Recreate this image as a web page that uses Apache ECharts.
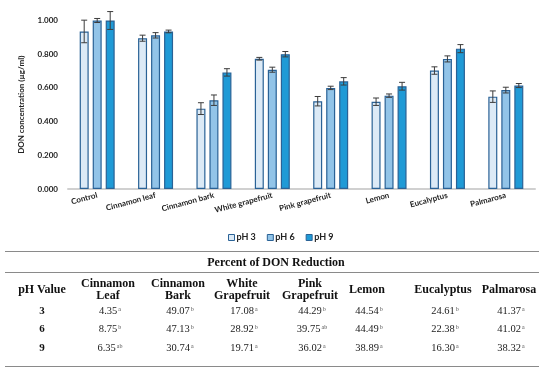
<!DOCTYPE html>
<html><head><meta charset="utf-8">
<script src="https://cdn.jsdelivr.net/npm/echarts@6/dist/echarts.min.js"></script>
<style>
html,body{margin:0;padding:0;background:#fff;}
#wrap{position:relative;width:550px;height:374px;overflow:hidden;}
#chart{position:absolute;left:0;top:0;width:550px;height:374px;}
#table{position:absolute;left:0;top:0;width:550px;height:374px;font-family:"Liberation Serif","DejaVu Serif",serif;color:#111;pointer-events:none;}
.cell{position:absolute;text-align:center;white-space:nowrap;transform:translate(-50%,-50%);}
.hd{font-weight:bold;font-size:12px;line-height:12.5px;}
.dt{font-size:10.5px;color:#222;}
.ph{font-weight:bold;font-size:11px;}
sup{font-size:6px;color:#555;vertical-align:3px;margin-left:1px;}
.hline{position:absolute;left:5px;width:534px;background:#8a8a8a;}
</style></head>
<body><div id="wrap"><div id="chart"></div><div id="table"></div></div>
<script>
const categories = ['Control','Cinnamon leaf','Cinnamon bark','White grapefruit','Pink grapefruit','Lemon','Eucalyptus','Palmarosa'];
const ph3 = [0.935,0.895,0.477,0.773,0.521,0.518,0.703,0.548];
const ph6 = [1.000,0.912,0.527,0.708,0.600,0.554,0.772,0.587];
const ph9 = [1.000,0.935,0.692,0.800,0.639,0.610,0.833,0.614];
const ph3Err = [0.067,0.018,0.035,0.008,0.028,0.022,0.022,0.034];
const ph6Err = [0.012,0.016,0.031,0.015,0.010,0.010,0.018,0.017];
const ph9Err = [0.053,0.008,0.022,0.016,0.022,0.023,0.024,0.012];
const yTicks = [0,0.2,0.4,0.6,0.8,1.0];

const tableTitle = 'Percent of DON Reduction';
const tableHeaders = ['pH Value','Cinnamon\nLeaf','Cinnamon\nBark','White\nGrapefruit','Pink\nGrapefruit','Lemon','Eucalyptus','Palmarosa'];
const phValues = ['3','6','9'];
const red3 = ['4.35','49.07','17.08','44.29','44.54','24.61','41.37'];
const sig3 = ['a','b','a','b','b','b','a'];
const red6 = ['8.75','47.13','28.92','39.75','44.49','22.38','41.02'];
const sig6 = ['b','b','b','ab','b','b','a'];
const red9 = ['6.35','30.74','19.71','36.02','38.89','16.30','38.32'];
const sig9 = ['ab','a','a','a','a','a','a'];

const chart = echarts.init(document.getElementById('chart'), null, {renderer:'canvas'});
const font = 'Lato, "Open Sans", sans-serif';
const fills = ['#dceaf6','#92c4e8','#1f9ad6'];
const border = '#2a6296';
const names = ['pH 3','pH 6','pH 9'];
const vals = [ph3,ph6,ph9];
const errs = [ph3Err,ph6Err,ph9Err];
const barW = 9, gap = 4;

const series = [];
vals.forEach((v,i)=>{
  series.push({
    name: names[i], type:'bar', data: v, barWidth: barW, barGap: (gap/barW*100)+'%',
    itemStyle:{color:fills[i], borderColor:border, borderWidth:1.2},
    emphasis:{disabled:true}
  });
});
vals.forEach((v,i)=>{
  series.push({
    type:'custom', name: names[i]+' err', silent:true, z:10, clip:false,
    data: v.map((y,k)=>[k,y,errs[i][k]]),
    renderItem:(params, api)=>{
      const k = api.value(0), y = api.value(1), e = api.value(2);
      const off = (i-1)*(barW+gap);
      const top = api.coord([k, y+e]); const bot = api.coord([k, y-e]);
      const x = top[0] + off;
      const st = {stroke:'#3c3c3c', lineWidth:1};
      return {type:'group', children:[
        {type:'line', shape:{x1:x,y1:top[1],x2:x,y2:bot[1]}, style:st},
        {type:'line', shape:{x1:x-3,y1:top[1],x2:x+3,y2:top[1]}, style:st},
        {type:'line', shape:{x1:x-3,y1:bot[1],x2:x+3,y2:bot[1]}, style:st}
      ]};
    }
  });
});

chart.setOption({
  animation:false,
  textStyle:{fontFamily:font},
  grid:{left:68, right:15, top:20.5, bottom:185},
  legend:{
    data:names, left:228, top:233, itemWidth:6, itemHeight:6, itemGap:11,
    icon:'rect', padding:0,
    textStyle:{fontFamily:font, fontWeight:'bold', fontSize:9, color:'#222', padding:[0,0,0,-3]},
    itemStyle:{borderColor:border, borderWidth:1}
  },
  xAxis:{
    type:'category', data:categories,
    axisLine:{lineStyle:{color:'#d0d0d0', width:2}},
    axisTick:{show:false},
    axisLabel:{interval:0, rotate:15, fontFamily:font, fontWeight:'bold', fontSize:8, color:'#222', margin:6}
  },
  yAxis:{
    type:'value', min:0, max:1, interval:0.2,
    name:'DON concentration (µg/ml)', nameLocation:'middle', nameGap:43,
    nameTextStyle:{fontFamily:font, fontWeight:'bold', fontSize:8, color:'#222'},
    axisLine:{show:false}, axisTick:{show:false}, splitLine:{show:false},
    axisLabel:{fontFamily:font, fontWeight:'bold', fontSize:8, color:'#222', margin:10,
      formatter:v=>v.toFixed(3)}
  },
  series: series
});

// Table
const t = document.getElementById('table');
function add(html, cls, x, y){
  const d = document.createElement('div'); d.className='cell '+cls;
  d.style.left=x+'px'; d.style.top=y+'px'; d.innerHTML=html; t.appendChild(d);
}
function hline(y,h){const d=document.createElement('div');d.className='hline';d.style.top=y+'px';d.style.height=h+'px';t.appendChild(d);}
hline(250.5,1.5); hline(272,1); hline(365.5,1.5);
add(tableTitle,'hd',276,261.5);
const colX = [42,108,178,242,310,367,443,509];
tableHeaders.forEach((h,i)=>add(h.replace('\n','<br>'),'hd',colX[i],288.5));
const rowsV = [red3,red6,red9], rowsS=[sig3,sig6,sig9], rowY=[310,328,346.5];
phValues.forEach((p,r)=>{
  add(p,'ph',colX[0],rowY[r]);
  rowsV[r].forEach((v,c)=>add(v+'<sup>'+rowsS[r][c]+'</sup>','dt',colX[c+1]+2,rowY[r]));
});
</script></body></html>
